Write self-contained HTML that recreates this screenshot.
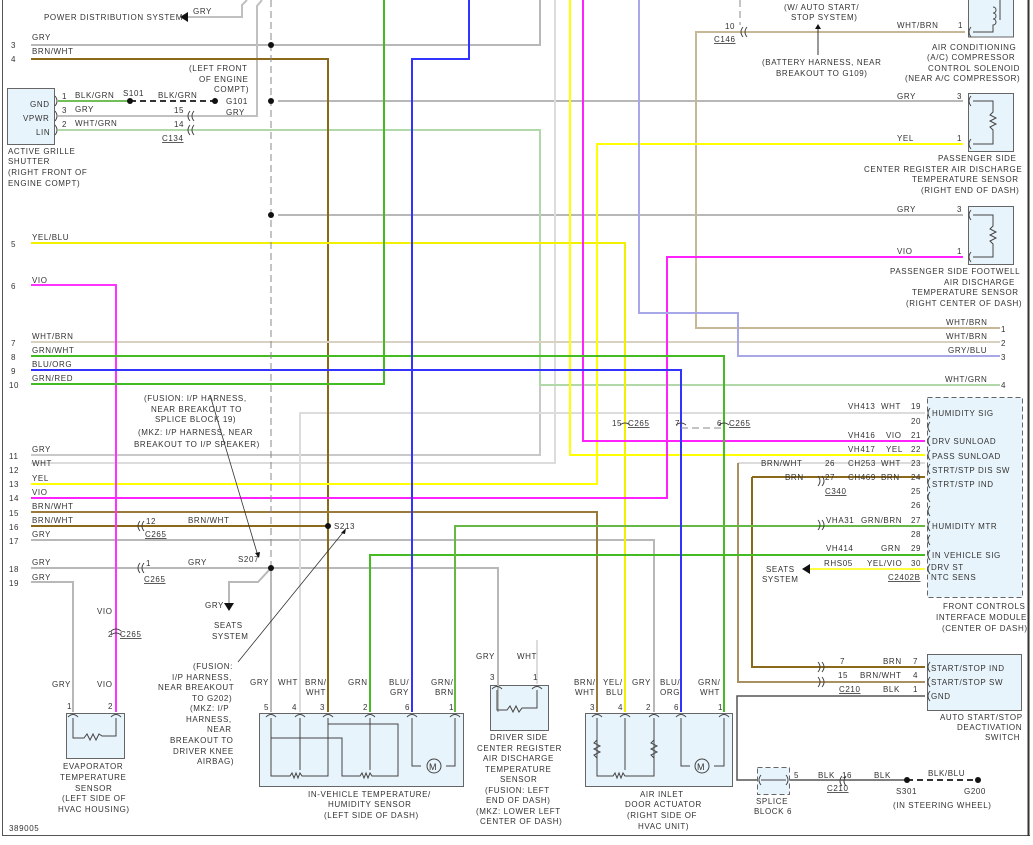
<!DOCTYPE html>
<html><head><meta charset="utf-8"><style>
html,body{margin:0;padding:0;background:#fff;}
svg{display:block;}
text{font-family:"Liberation Sans",sans-serif;font-size:8px;fill:#333;letter-spacing:0.6px;}
.w{fill:none;stroke-width:2;}
</style></head><body>
<svg width="1033" height="845" viewBox="0 0 1033 845" xmlns="http://www.w3.org/2000/svg">
<line x1="2.5" y1="0" x2="2.5" y2="836" stroke="#555" stroke-width="1"/>
<line x1="2" y1="835.5" x2="1030" y2="835.5" stroke="#555" stroke-width="1"/>
<line x1="1028.5" y1="0" x2="1028.5" y2="836" stroke="#333" stroke-width="2"/>

<g fill="#e8f4fb" stroke="#666" stroke-width="1">
<rect x="7.5" y="88.5" width="47" height="56"/>
<rect x="66.5" y="713.5" width="58" height="45"/>
<rect x="259.5" y="713.5" width="204" height="73"/>
<rect x="490.5" y="685.5" width="58" height="45"/>
<rect x="585.5" y="713.5" width="147" height="73"/>
<rect x="968.5" y="-2" width="45" height="39"/>
<rect x="968.5" y="93.5" width="45" height="58"/>
<rect x="968.5" y="206.5" width="45" height="58"/>
<rect x="927.5" y="654.5" width="94" height="56"/>
<rect x="927.5" y="397.5" width="95" height="200" stroke-dasharray="5,3"/>
<rect x="757.5" y="767.5" width="32" height="27" stroke-dasharray="5,3"/>
</g>

<g class="w">
<path d="M31 45H540V0" stroke="#b8b8b8"/>
<path d="M58 116H257V6L262 0" stroke="#c0c0c0"/>
<path d="M183 17H242V5L247 0" stroke="#c0c0c0"/>
<path d="M278 101H963" stroke="#b8b8b8"/>
<path d="M278 215H963" stroke="#b8b8b8"/>
<path d="M31 455H540V385" stroke="#c8c8c8"/>
<path d="M31 540H654V712" stroke="#b8b8b8"/>
<path d="M31 568H498V712" stroke="#b8b8b8"/>
<path d="M271 568V712" stroke="#b8b8b8"/>
<path d="M271 568L258 582H229V606" stroke="#b8b8b8"/>
<path d="M31 582H73V712" stroke="#b8b8b8"/>
<path d="M31 463H555V0" stroke="#dcdcdc"/>
<path d="M300 712V413H925" stroke="#dcdcdc"/>
<path d="M537 684V640" stroke="#dcdcdc"/>
<path d="M738 463H925" stroke="#dcdcdc"/>
<path d="M752 477H925" stroke="#8a6a1a"/>
<path d="M58 130H540V385H1000" stroke="#b0d8a8"/>
<path d="M31 59H328V712" stroke="#8a6a1a"/>
<path d="M31 526H328" stroke="#8a6a1a"/>
<path d="M31 512H597V712" stroke="#9a7a3a"/>
<path d="M752 477V667H925" stroke="#8a6a1a"/>
<path d="M738 463V682H925" stroke="#a89060"/>
<path d="M965 32H696V328H1000" stroke="#c8b898"/>
<path d="M31 342H1000" stroke="#d8d0c0"/>
<path d="M31 243H625V712" stroke="#f0f000"/>
<path d="M31 484H597V144H963" stroke="#ffff00"/>
<path d="M570 0V455H925" stroke="#ffff00"/>
<path d="M805 569H925" stroke="#ffff40"/>
<path d="M31 285H116V712" stroke="#ff33ff"/>
<path d="M31 498H667V257H963" stroke="#ff22ff"/>
<path d="M583 0V441H925" stroke="#ff22ff"/>
<path d="M31 356H724V712" stroke="#44bb22"/>
<path d="M31 384H384V0" stroke="#44bb22"/>
<path d="M370 712V555H925" stroke="#44bb22"/>
<path d="M455 712V526H925" stroke="#66b844"/>
<path d="M31 370H681V712" stroke="#3333ff"/>
<path d="M469 0V59H412V712" stroke="#3333ff"/>
<path d="M639 0V313H738V356H1000" stroke="#a8a8e8"/>
<path d="M925 696H737V780H757" stroke="#555" stroke-width="1.5"/>
<path d="M790 780H907" stroke="#555" stroke-width="1.5"/>
<path d="M58 101H130" stroke="#44aa22" stroke-width="1.5"/>
</g>
<path d="M130 101H218" stroke="#333" stroke-width="2" stroke-dasharray="6,4" fill="none"/>
<path d="M907 780H980" stroke="#333" stroke-width="2" stroke-dasharray="6,4" fill="none"/>
<path d="M271 0V568" stroke="#888" stroke-width="1" stroke-dasharray="7,4" fill="none"/>
<path d="M740 0V25" stroke="#888" stroke-width="1" stroke-dasharray="7,4" fill="none"/>
<path d="M681 428H724" stroke="#888" stroke-width="1" stroke-dasharray="7,4" fill="none"/>
<g fill="#111">
<circle cx="271" cy="45" r="3"/><circle cx="271" cy="101" r="3"/><circle cx="271" cy="215" r="3"/>
<circle cx="271" cy="568" r="3"/><circle cx="328" cy="526" r="3"/><circle cx="130" cy="101" r="3"/>
<circle cx="215" cy="101" r="3"/><circle cx="907" cy="780" r="3"/><circle cx="978" cy="780" r="3"/>
</g>
<path d="M180 17l8-5v10z" fill="#111"/>
<path d="M224 603h10l-5 8z" fill="#111"/>
<path d="M802 569l8-5v10z" fill="#111"/>
<path d="M818 55V28" stroke="#333" stroke-width="1"/><path d="M815 29l3-5 3 5z" fill="#111"/>
<path d="M210 395L258 556" stroke="#333" stroke-width="0.8"/><path d="M255 553l4 5 1-6z" fill="#111"/>
<path d="M238 662L345 530" stroke="#333" stroke-width="0.8"/><path d="M341 533l5-5-1 6z" fill="#111"/>
<g fill="none" stroke="#444" stroke-width="1">
<path d="M73 718V738H84l3-4 3 6 3-6 3 6 3-6 3 2H116V718"/>
<path d="M271 718V776H290l2-3 2 5 2-5 2 5 2-5 2 3H328V718"/>
<path d="M271 738H342V776H360l2-3 2 5 2-5 2 5 2-5 2 3H398V724H328"/>
<path d="M300 718V770"/><path d="M370 718V770"/>
<path d="M412 718V766H421M446 766H455V718"/>
<circle cx="434" cy="766" r="7"/>
<path d="M497 690V710H507l3-4 3 6 3-6 3 6 3-4H537V690"/>
<path d="M597 718V776H613l2-3 2 5 2-5 2 5 2-5 2 3H654V718"/>
<path d="M597 740l-3 3 6 3-6 3 6 3-6 3 3 3"/><path d="M654 740l-3 3 6 3-6 3 6 3-6 3 3 3"/>
<path d="M625 718V770"/>
<path d="M681 718V766H690M714 766H724V718"/>
<circle cx="702" cy="766" r="7"/>
<path d="M973 101H993V112l-3 3 6 3-6 3 6 3-6 3 3 3V144H973"/>
<path d="M973 215H993V226l-3 3 6 3-6 3 6 3-6 3 3 3V257H973"/>
<path d="M973 32H993V25c4 0 4-6 0-6 4 0 4-6 0-6 4 0 4-6 0-6M1000 0V20"/>
<path d="M761 780H786"/>
<path d="M140 521q-4 5 0 10M144 521q-4 5 0 10M140 563q-4 5 0 10M144 563q-4 5 0 10M190 111q-4 5 0 10M194 111q-4 5 0 10M190 125q-4 5 0 10M194 125q-4 5 0 10M111 631q5-4 10 0M111 635q5-4 10 0M620 425q5-4 10 0M676 425q5-4 10 0M719 425q5-4 10 0M743 27q-4 5 0 10M747 27q-4 5 0 10"/>
<path d="M818 520q4 5 0 10M822 520q4 5 0 10M818 476q4 5 0 10M822 476q4 5 0 10M818 662q4 5 0 10M822 662q4 5 0 10M818 677q4 5 0 10M822 677q4 5 0 10M842 776q-4 5 0 10M846 776q-4 5 0 10"/>
<path d="M930 408q-4 5 0 10M930 422q-4 5 0 10M930 436q-4 5 0 10M930 450q-4 5 0 10M930 464q-4 5 0 10M930 478q-4 5 0 10M930 492q-4 5 0 10M930 506q-4 5 0 10M930 521q-4 5 0 10M930 535q-4 5 0 10M930 550q-4 5 0 10M930 564q-4 5 0 10M930 662q-4 5 0 10M930 677q-4 5 0 10M930 691q-4 5 0 10M971 27q-4 5 0 10M971 96q-4 5 0 10M971 139q-4 5 0 10M971 210q-4 5 0 10M971 252q-4 5 0 10M55 96q4 5 0 10M55 111q4 5 0 10M55 125q4 5 0 10"/>
<path d="M68 717q5-5 10 0M111 717q5-5 10 0M266 717q5-5 10 0M295 717q5-5 10 0M323 717q5-5 10 0M365 717q5-5 10 0M407 717q5-5 10 0M450 717q5-5 10 0M492 689q5-5 10 0M532 689q5-5 10 0M592 717q5-5 10 0M620 717q5-5 10 0M649 717q5-5 10 0M676 717q5-5 10 0M719 717q5-5 10 0M761 775q-4 5 0 10M786 775q4 5 0 10"/>
</g>
<text x="429" y="770" style="font-size:9px">M</text>
<text x="697" y="770" style="font-size:9px">M</text>
<g>
<text x="44" y="20">POWER DISTRIBUTION SYSTEM</text>
<text x="193" y="14">GRY</text>
<text x="32" y="40">GRY</text><text x="11" y="48">3</text>
<text x="32" y="54">BRN/WHT</text><text x="11" y="62">4</text>
<text x="189" y="71">(LEFT FRONT</text><text x="199" y="82">OF ENGINE</text><text x="214" y="92">COMPT)</text>
<text x="30" y="107">GND</text><text x="23" y="121">VPWR</text><text x="36" y="135">LIN</text>
<text x="62" y="99">1</text><text x="75" y="98">BLK/GRN</text><text x="123" y="96">S101</text><text x="158" y="98">BLK/GRN</text><text x="226" y="104">G101</text>
<text x="62" y="113">3</text><text x="75" y="112">GRY</text><text x="174" y="113">15</text><text x="226" y="115">GRY</text>
<text x="62" y="127">2</text><text x="75" y="126">WHT/GRN</text><text x="174" y="127">14</text>
<text x="162" y="141" text-decoration="underline">C134</text>
<text x="8" y="154">ACTIVE GRILLE</text><text x="8" y="164">SHUTTER</text><text x="8" y="175">(RIGHT FRONT OF</text><text x="8" y="186">ENGINE COMPT)</text>
<text x="32" y="240">YEL/BLU</text><text x="11" y="247">5</text>
<text x="32" y="283">VIO</text><text x="11" y="289">6</text>
<text x="32" y="339">WHT/BRN</text><text x="11" y="346">7</text>
<text x="32" y="353">GRN/WHT</text><text x="11" y="360">8</text>
<text x="32" y="367">BLU/ORG</text><text x="11" y="374">9</text>
<text x="32" y="381">GRN/RED</text><text x="9" y="388">10</text>
<text x="144" y="401">(FUSION: I/P HARNESS,</text><text x="151" y="412">NEAR BREAKOUT TO</text><text x="155" y="422">SPLICE BLOCK 19)</text>
<text x="138" y="435">(MKZ: I/P HARNESS, NEAR</text><text x="134" y="447">BREAKOUT TO I/P SPEAKER)</text>
<text x="32" y="452">GRY</text><text x="9" y="459">11</text>
<text x="32" y="466">WHT</text><text x="9" y="473">12</text>
<text x="32" y="481">YEL</text><text x="9" y="487">13</text>
<text x="32" y="495">VIO</text><text x="9" y="501">14</text>
<text x="32" y="509">BRN/WHT</text><text x="9" y="516">15</text>
<text x="32" y="523">BRN/WHT</text><text x="9" y="530">16</text><text x="146" y="524">12</text><text x="188" y="523">BRN/WHT</text>
<text x="145" y="537" text-decoration="underline">C265</text><text x="334" y="529">S213</text>
<text x="32" y="537">GRY</text><text x="9" y="544">17</text>
<text x="32" y="565">GRY</text><text x="9" y="572">18</text><text x="146" y="566">1</text><text x="188" y="565">GRY</text>
<text x="238" y="562">S207</text><text x="144" y="582" text-decoration="underline">C265</text>
<text x="32" y="580">GRY</text><text x="9" y="586">19</text>
<text x="205" y="608">GRY</text><text x="214" y="628">SEATS</text><text x="212" y="639">SYSTEM</text>
<text x="97" y="614">VIO</text><text x="108" y="637">2</text><text x="120" y="637" text-decoration="underline">C265</text>
<text x="193" y="669">(FUSION:</text><text x="172" y="680">I/P HARNESS,</text><text x="158" y="690">NEAR BREAKOUT</text><text x="192" y="701">TO G202)</text>
<text x="190" y="711">(MKZ: I/P</text><text x="186" y="722">HARNESS,</text><text x="207" y="732">NEAR</text><text x="170" y="743">BREAKOUT TO</text><text x="173" y="754">DRIVER KNEE</text><text x="197" y="764">AIRBAG)</text>
<text x="52" y="687">GRY</text><text x="97" y="687">VIO</text><text x="67" y="709">1</text><text x="108" y="709">2</text>
<text x="63" y="769">EVAPORATOR</text><text x="60" y="780">TEMPERATURE</text><text x="75" y="791">SENSOR</text><text x="62" y="801">(LEFT SIDE OF</text><text x="58" y="812">HVAC HOUSING)</text>
<text x="9" y="831">389005</text>
<text x="250" y="685">GRY</text><text x="278" y="685">WHT</text><text x="305" y="685">BRN/</text><text x="306" y="695">WHT</text><text x="348" y="685">GRN</text><text x="389" y="685">BLU/</text><text x="390" y="695">GRY</text><text x="431" y="685">GRN/</text><text x="435" y="695">BRN</text>
<text x="264" y="710">5</text><text x="292" y="710">4</text><text x="320" y="710">3</text><text x="363" y="710">2</text><text x="405" y="710">6</text><text x="449" y="710">1</text>
<text x="308" y="797">IN-VEHICLE TEMPERATURE/</text><text x="328" y="807">HUMIDITY SENSOR</text><text x="324" y="818">(LEFT SIDE OF DASH)</text>
<text x="476" y="659">GRY</text><text x="517" y="659">WHT</text><text x="490" y="680">3</text><text x="533" y="680">1</text>
<text x="490" y="740">DRIVER SIDE</text><text x="477" y="751">CENTER REGISTER</text><text x="483" y="761">AIR DISCHARGE</text><text x="485" y="772">TEMPERATURE</text><text x="500" y="782">SENSOR</text><text x="485" y="793">(FUSION: LEFT</text><text x="486" y="803">END OF DASH)</text><text x="476" y="814">(MKZ: LOWER LEFT</text><text x="480" y="824">CENTER OF DASH)</text>
<text x="574" y="685">BRN/</text><text x="575" y="695">WHT</text><text x="603" y="685">YEL/</text><text x="606" y="695">BLU</text><text x="632" y="685">GRY</text><text x="660" y="685">BLU/</text><text x="660" y="695">ORG</text><text x="698" y="685">GRN/</text><text x="700" y="695">WHT</text>
<text x="590" y="710">3</text><text x="618" y="710">4</text><text x="646" y="710">2</text><text x="674" y="710">6</text><text x="718" y="710">1</text>
<text x="640" y="797">AIR INLET</text><text x="625" y="807">DOOR ACTUATOR</text><text x="627" y="818">(RIGHT SIDE OF</text><text x="638" y="829">HVAC UNIT)</text>
<text x="784" y="10">(W/ AUTO START/</text><text x="791" y="20">STOP SYSTEM)</text>
<text x="725" y="29">10</text><text x="714" y="42" text-decoration="underline">C146</text>
<text x="897" y="28">WHT/BRN</text><text x="958" y="28">1</text>
<text x="762" y="65">(BATTERY HARNESS, NEAR</text><text x="776" y="76">BREAKOUT TO G109)</text>
<text x="932" y="50">AIR CONDITIONING</text><text x="927" y="60">(A/C) COMPRESSOR</text><text x="928" y="71">CONTROL SOLENOID</text><text x="905" y="81">(NEAR A/C COMPRESSOR)</text>
<text x="897" y="99">GRY</text><text x="957" y="99">3</text><text x="897" y="141">YEL</text><text x="957" y="141">1</text>
<text x="938" y="161">PASSENGER SIDE</text><text x="864" y="172">CENTER REGISTER AIR DISCHARGE</text><text x="912" y="182">TEMPERATURE SENSOR</text><text x="921" y="193">(RIGHT END OF DASH)</text>
<text x="897" y="212">GRY</text><text x="957" y="212">3</text><text x="897" y="254">VIO</text><text x="957" y="254">1</text>
<text x="890" y="274">PASSENGER SIDE FOOTWELL</text><text x="944" y="285">AIR DISCHARGE</text><text x="912" y="295">TEMPERATURE SENSOR</text><text x="906" y="306">(RIGHT CENTER OF DASH)</text>
<text x="946" y="325">WHT/BRN</text><text x="1001" y="332">1</text>
<text x="946" y="339">WHT/BRN</text><text x="1001" y="346">2</text>
<text x="948" y="353">GRY/BLU</text><text x="1001" y="360">3</text>
<text x="945" y="382">WHT/GRN</text><text x="1001" y="388">4</text>
<text x="848" y="409">VH413</text><text x="881" y="409">WHT</text><text x="911" y="409">19</text><text x="932" y="416">HUMIDITY SIG</text>
<text x="911" y="424">20</text>
<text x="848" y="438">VH416</text><text x="886" y="438">VIO</text><text x="911" y="438">21</text><text x="932" y="444">DRV SUNLOAD</text>
<text x="848" y="452">VH417</text><text x="886" y="452">YEL</text><text x="911" y="452">22</text><text x="932" y="459">PASS SUNLOAD</text>
<text x="761" y="466">BRN/WHT</text><text x="825" y="466">26</text><text x="848" y="466">CH253</text><text x="881" y="466">WHT</text><text x="911" y="466">23</text><text x="932" y="473">STRT/STP DIS SW</text>
<text x="785" y="480">BRN</text><text x="825" y="480">27</text><text x="848" y="480">CH469</text><text x="881" y="480">BRN</text><text x="911" y="480">24</text><text x="932" y="487">STRT/STP IND</text>
<text x="825" y="494" text-decoration="underline">C340</text><text x="911" y="494">25</text><text x="911" y="508">26</text>
<text x="826" y="523">VHA31</text><text x="861" y="523">GRN/BRN</text><text x="911" y="523">27</text><text x="932" y="529">HUMIDITY MTR</text>
<text x="911" y="537">28</text>
<text x="826" y="551">VH414</text><text x="881" y="551">GRN</text><text x="911" y="551">29</text><text x="932" y="558">IN VEHICLE SIG</text>
<text x="824" y="566">RHS05</text><text x="867" y="566">YEL/VIO</text><text x="911" y="566">30</text><text x="931" y="570">DRV ST</text>
<text x="766" y="572">SEATS</text><text x="762" y="582">SYSTEM</text>
<text x="888" y="580" text-decoration="underline">C2402B</text><text x="931" y="580">NTC SENS</text>
<text x="943" y="609">FRONT CONTROLS</text><text x="936" y="620">INTERFACE MODULE</text><text x="942" y="631">(CENTER OF DASH)</text>
<text x="840" y="664">7</text><text x="883" y="664">BRN</text><text x="913" y="664">7</text><text x="931" y="671">START/STOP IND</text>
<text x="838" y="678">15</text><text x="860" y="678">BRN/WHT</text><text x="913" y="678">4</text><text x="931" y="685">START/STOP SW</text>
<text x="839" y="692" text-decoration="underline">C210</text><text x="883" y="692">BLK</text><text x="913" y="692">1</text><text x="931" y="699">GND</text>
<text x="940" y="720">AUTO START/STOP</text><text x="957" y="730">DEACTIVATION</text><text x="985" y="740">SWITCH</text>
<text x="794" y="778">5</text><text x="818" y="778">BLK</text><text x="842" y="778">16</text><text x="874" y="778">BLK</text><text x="928" y="776">BLK/BLU</text>
<text x="827" y="791" text-decoration="underline">C210</text><text x="896" y="794">S301</text><text x="964" y="794">G200</text>
<text x="893" y="808">(IN STEERING WHEEL)</text>
<text x="756" y="804">SPLICE</text><text x="754" y="814">BLOCK 6</text>
<text x="612" y="426">15</text><text x="628" y="426" text-decoration="underline">C265</text><text x="675" y="426">7</text><text x="717" y="426">6</text><text x="729" y="426" text-decoration="underline">C265</text>
</g>
</svg>
</body></html>
